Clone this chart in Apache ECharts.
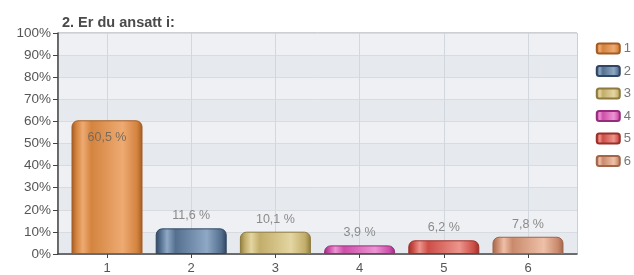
<!DOCTYPE html>
<html>
<head>
<meta charset="utf-8">
<script src="https://cdn.jsdelivr.net/npm/echarts@6/dist/echarts.min.js"></script>
<style>
  html, body { margin: 0; padding: 0; background: #fff; }
  #chart { width: 634px; height: 275px; }
</style>
</head>
<body>
<div id="chart"></div>
<script>
  // categories and percentages
  var categories = ['1', '2', '3', '4', '5', '6'];
  var values = [60.5, 11.6, 10.1, 3.9, 6.2, 7.8];
  var yTicks = [0, 10, 20, 30, 40, 50, 60, 70, 80, 90, 100];

  // dark edge, base, highlight for each bar
  var palette = [
    ['#a35c24', '#d4843f', '#eeaa72'],
    ['#2f4562', '#55708f', '#8ea8c6'],
    ['#8c7a3e', '#c2ad6a', '#e4d6a2'],
    ['#962c7c', '#cc4fa8', '#ec94d2'],
    ['#9a302a', '#cc4e47', '#ec958c'],
    ['#a0654a', '#c98a6c', '#eec0a8']
  ];

  function barFill(c) {
    return new echarts.graphic.LinearGradient(0, 0, 1, 0, [
      {offset: 0, color: c[0]},
      {offset: 0.07, color: c[1]},
      {offset: 0.16, color: c[2]},
      {offset: 0.28, color: c[1]},
      {offset: 0.72, color: c[2]},
      {offset: 0.92, color: c[1]},
      {offset: 1, color: c[0]}
    ]);
  }

  var series = categories.map(function (name, i) {
    var big = values[i] > 30;
    return {
      name: name,
      type: 'bar',
      barWidth: 71,
      barGap: '-100%',
      data: [[i + 1, values[i]]],
      itemStyle: {
        color: barFill(palette[i]),
        borderColor: palette[i][0],
        borderWidth: 1,
        borderRadius: [6, 6, 0, 0]
      },
      label: {
        show: true,
        position: big ? 'insideTop' : 'top',
        distance: big ? 11 : 6,
        color: big ? '#7a6a5a' : '#8a8a8a',
        fontSize: 12.5,
        formatter: function (p) {
          return String(p.value[1]).replace('.', ',') + ' %';
        }
      }
    };
  });

  var myChart = echarts.init(document.getElementById('chart'));
  var option = {
    animation: false,
    textStyle: {fontFamily: 'Liberation Sans'},
    title: {
      text: '2. Er du ansatt i:',
      left: 62,
      top: 15,
      padding: 0,
      textStyle: {fontSize: 14.5, fontWeight: 'bold', color: '#4a4a4a', fontFamily: 'Liberation Sans'}
    },
    legend: {
      orient: 'vertical',
      right: 3,
      top: 42,
      padding: 0,
      itemWidth: 23,
      itemHeight: 10,
      itemGap: 9.5,
      icon: 'roundRect',
      textStyle: {fontSize: 13, color: '#777', padding: [0, 0, 0, -1]},
      data: categories
    },
    grid: {
      left: 58,
      right: 57,
      top: 33,
      bottom: 19,
      show: true,
      backgroundColor: '#e9ecef',
      borderColor: '#9a9ea4',
      borderWidth: 1
    },
    xAxis: {
      type: 'value',
      min: 0.418,
      max: 6.582,
      axisLine: {show: true, lineStyle: {color: '#444', width: 1.5}},
      axisTick: {show: true, customValues: [1, 2, 3, 4, 5, 6], length: 4, lineStyle: {color: '#444'}},
      axisLabel: {
        customValues: [1, 2, 3, 4, 5, 6],
        margin: 8,
        fontSize: 13,
        color: '#555',
        formatter: function (v) { return categories[Math.round(v) - 1]; }
      },
      splitLine: {show: true, lineStyle: {color: '#d3d8de'}}
    },
    yAxis: {
      type: 'value',
      min: yTicks[0],
      max: yTicks[yTicks.length - 1],
      interval: 10,
      axisLine: {show: true, lineStyle: {color: '#444', width: 1.5}},
      axisTick: {show: true, length: 5, lineStyle: {color: '#444'}},
      axisLabel: {formatter: '{value}%', fontSize: 13.5, color: '#555', margin: 7},
      splitLine: {show: true, lineStyle: {color: '#d8dce1'}},
      splitArea: {show: true, areaStyle: {color: ['#e6e9ed', '#eef0f3']}}
    },
    series: series
  };
  myChart.setOption(option);
</script>
</body>
</html>
